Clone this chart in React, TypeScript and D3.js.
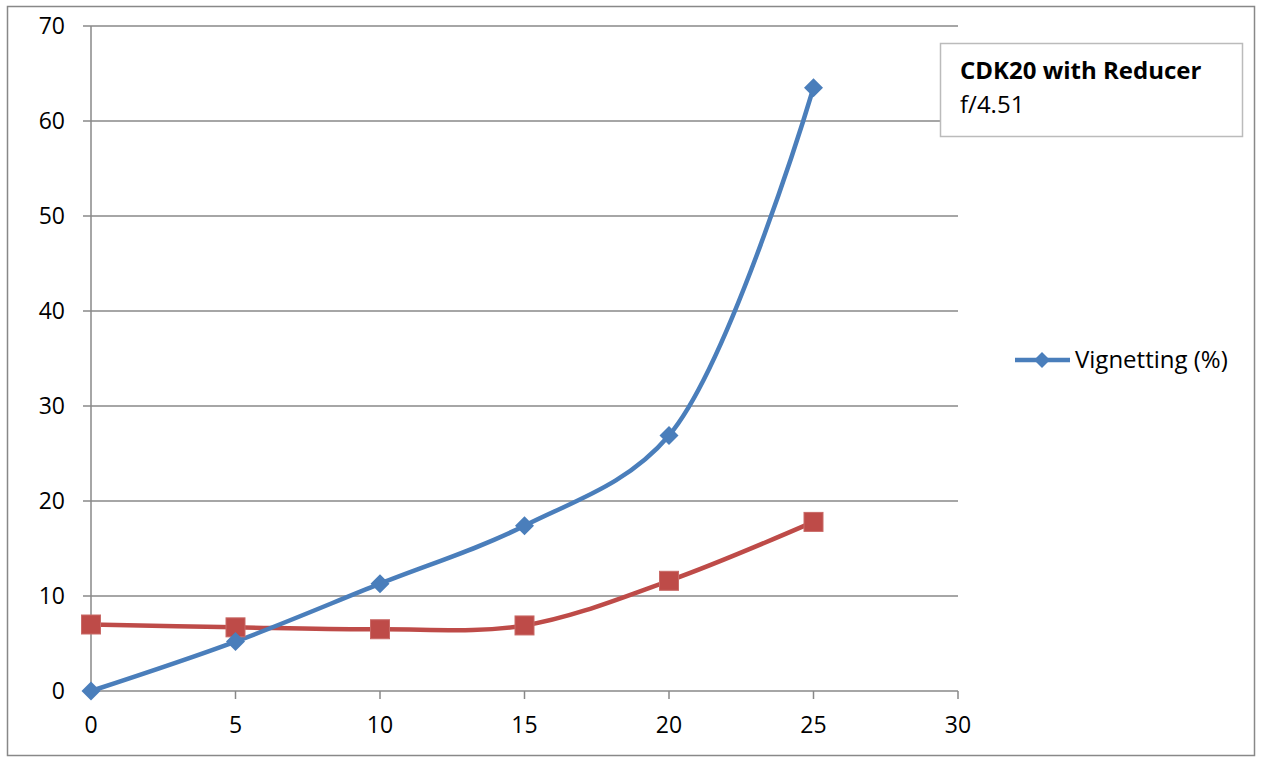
import React from "react";
import * as d3 from "d3";

const xValues = [0, 5, 10, 15, 20, 25];
const vignetting = [0, 5.2, 11.3, 17.4, 26.9, 63.5];
const secondSeries = [7.0, 6.7, 6.5, 6.9, 11.6, 17.8];
const yTicks = [0, 10, 20, 30, 40, 50, 60, 70];
const xTicks = [0, 5, 10, 15, 20, 25, 30];
const legendLabel = "Vignetting (%)";
const titleLine1 = "CDK20 with Reducer";
const titleLine2 = "f/4.51";

const W = 1262;
const H = 757;
const FONT = "'Open Sans', Lato, sans-serif";
const BLUE = "#4A7EBB";
const RED = "#BE4B48";
const GRID = "#888888";

export default function App() {
  const x = d3.scaleLinear().domain([0, 30]).range([91, 958]);
  const y = d3.scaleLinear().domain([0, 70]).range([691, 26]);
  const line = d3
    .line<number>()
    .x((_, i) => x(xValues[i]))
    .y((d) => y(d))
    .curve(d3.curveCatmullRom.alpha(0.5));

  const diamond = (cx: number, cy: number, r: number) =>
    `M${cx},${cy - r}L${cx + r},${cy}L${cx},${cy + r}L${cx - r},${cy}Z`;

  return (
    <svg
      width={W}
      height={H}
      style={{ position: "absolute", left: 0, top: 0, background: "#fff" }}
    >
      <rect x={0} y={0} width={W} height={H} fill="#fff" />
      <rect x={7.5} y={6.5} width={1247} height={749} fill="#fff" stroke={GRID} strokeWidth={1.5} />
      {yTicks.map((t) => (
        <line key={"g" + t} x1={83} x2={958} y1={y(t)} y2={y(t)} stroke={GRID} strokeWidth={1.5} />
      ))}
      <line x1={x(0)} x2={x(0)} y1={y(70)} y2={y(0)} stroke={GRID} strokeWidth={1.5} />
      {xTicks.map((t) => (
        <line key={"xt" + t} x1={x(t)} x2={x(t)} y1={y(0)} y2={y(0) + 8} stroke={GRID} strokeWidth={1.5} />
      ))}
      {yTicks.map((t) => (
        <text key={"yl" + t} x={65} y={y(t) + 8} textAnchor="end" fontFamily={FONT} fontSize={23} fill="#000">
          {t}
        </text>
      ))}
      {xTicks.map((t) => (
        <text key={"xl" + t} x={x(t)} y={733} textAnchor="middle" fontFamily={FONT} fontSize={23} fill="#000">
          {t}
        </text>
      ))}
      <path d={line(secondSeries) || ""} fill="none" stroke={RED} strokeWidth={4.5} strokeLinejoin="round" />
      <path d={line(vignetting) || ""} fill="none" stroke={BLUE} strokeWidth={4.5} strokeLinejoin="round" />
      {secondSeries.map((v, i) => (
        <rect key={"r" + i} x={x(xValues[i]) - 9.5} y={y(v) - 9.5} width={19} height={19} fill={RED} stroke="#c96a67" strokeWidth={1} />
      ))}
      {vignetting.map((v, i) => (
        <path key={"b" + i} d={diamond(x(xValues[i]), y(v), 9.5)} fill={BLUE} />
      ))}
      <line x1={1015} x2={1070} y1={360} y2={360} stroke={BLUE} strokeWidth={4.5} />
      <path d={diamond(1042, 360, 8)} fill={BLUE} />
      <text x={1075} y={368} fontFamily={FONT} fontSize={24} fill="#000">
        {legendLabel}
      </text>
      <rect x={940.5} y={43.5} width={302} height={93} fill="#fff" stroke="#bbbbbb" strokeWidth={1.5} />
      <text x={960} y={79} fontFamily={FONT} fontSize={24} fontWeight="bold" fill="#000">
        {titleLine1}
      </text>
      <text x={960} y={113} fontFamily={FONT} fontSize={24} fill="#000">
        {titleLine2}
      </text>
    </svg>
  );
}
